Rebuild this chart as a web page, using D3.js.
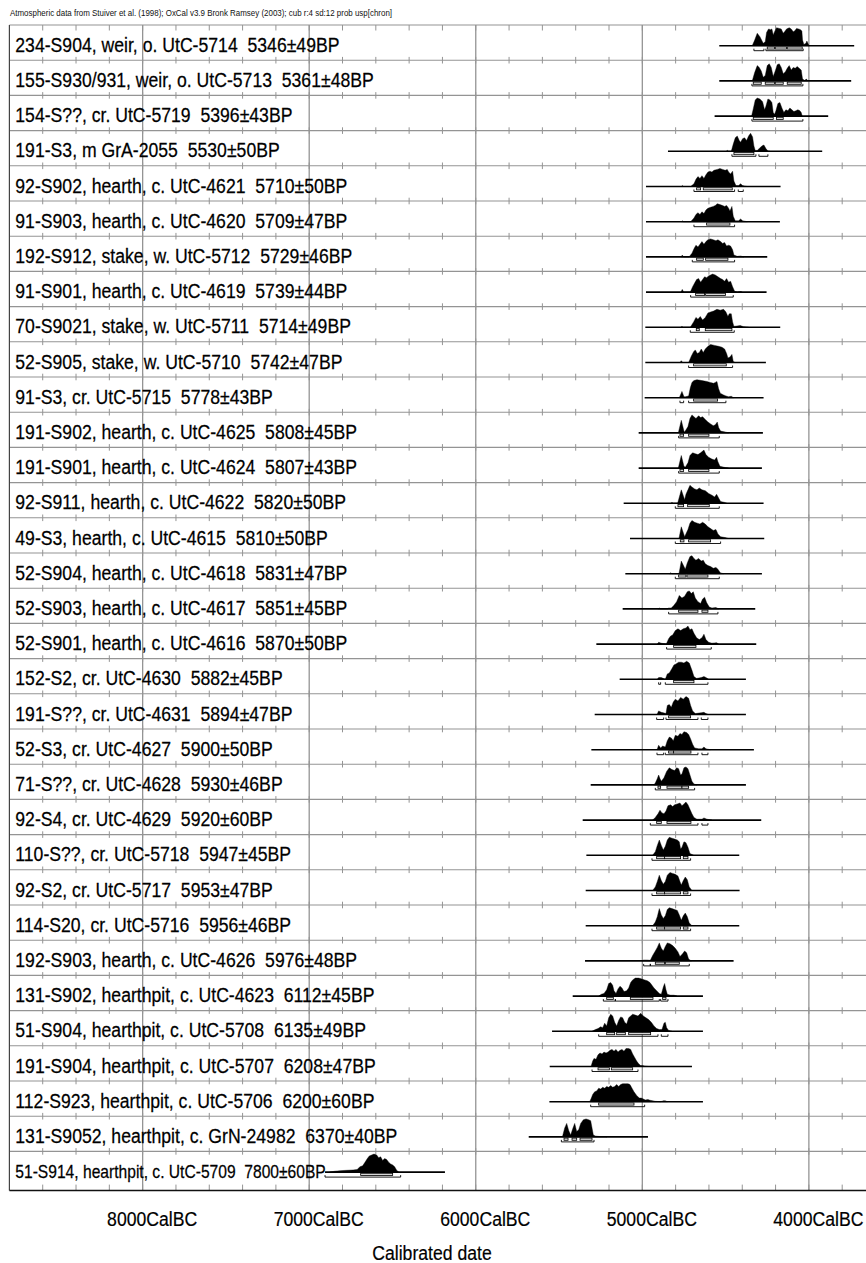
<!DOCTYPE html>
<html><head><meta charset="utf-8">
<script src="https://cdn.jsdelivr.net/npm/d3@7"></script>
<style>
html,body{margin:0;padding:0;background:#fff;}
svg{display:block;}
text{font-family:"Liberation Sans",Arial,sans-serif;white-space:pre;}
</style></head>
<body>
<svg id="chart" width="866" height="1263"></svg>
<script>
const headerText = "Atmospheric data from Stuiver et al. (1998); OxCal v3.9 Bronk Ramsey (2003); cub r:4 sd:12 prob usp[chron]";
const axisTitle = "Calibrated date";
const majorTicks = [8000, 7000, 6000, 5000, 4000];
const tickLabels = ["8000CalBC", "7000CalBC", "6000CalBC", "5000CalBC", "4000CalBC"];
const minorTicks = [8600,8400,8200,8000,7800,7600,7400,7200,7000,6800,6600,6400,6200,6000,5800,5600,5400,5200,5000,4800,4600,4400,4200,4000,3800];

const labels = [
"234-S904, weir, o. UtC-5714  5346±49BP",
"155-S930/931, weir, o. UtC-5713  5361±48BP",
"154-S??, cr. UtC-5719  5396±43BP",
"191-S3, m GrA-2055  5530±50BP",
"92-S902, hearth, c. UtC-4621  5710±50BP",
"91-S903, hearth, c. UtC-4620  5709±47BP",
"192-S912, stake, w. UtC-5712  5729±46BP",
"91-S901, hearth, c. UtC-4619  5739±44BP",
"70-S9021, stake, w. UtC-5711  5714±49BP",
"52-S905, stake, w. UtC-5710  5742±47BP",
"91-S3, cr. UtC-5715  5778±43BP",
"191-S902, hearth, c. UtC-4625  5808±45BP",
"191-S901, hearth, c. UtC-4624  5807±43BP",
"92-S911, hearth, c. UtC-4622  5820±50BP",
"49-S3, hearth, c. UtC-4615  5810±50BP",
"52-S904, hearth, c. UtC-4618  5831±47BP",
"52-S903, hearth, c. UtC-4617  5851±45BP",
"52-S901, hearth, c. UtC-4616  5870±50BP",
"152-S2, cr. UtC-4630  5882±45BP",
"191-S??, cr. UtC-4631  5894±47BP",
"52-S3, cr. UtC-4627  5900±50BP",
"71-S??, cr. UtC-4628  5930±46BP",
"92-S4, cr. UtC-4629  5920±60BP",
"110-S??, cr. UtC-5718  5947±45BP",
"92-S2, cr. UtC-5717  5953±47BP",
"114-S20, cr. UtC-5716  5956±46BP",
"192-S903, hearth, c. UtC-4626  5976±48BP",
"131-S902, hearthpit, c. UtC-4623  6112±45BP",
"51-S904, hearthpit, c. UtC-5708  6135±49BP",
"191-S904, hearthpit, c. UtC-5707  6208±47BP",
"112-S923, hearthpit, c. UtC-5706  6200±60BP",
"131-S9052, hearthpit, c. GrN-24982  6370±40BP",
"51-S914, hearthpit, c. UtC-5709  7800±60BP"
];

// full plotted range of each row (cal BC, from -> to)
const spans = [
[4538,3728],[4538,3746],[4566,3884],[4846,3920],[4978,4170],[4978,4174],[4978,4250],[4978,4254],
[4982,4172],[4982,4258],[4986,4272],[5022,4276],[5022,4282],[5112,4272],[5074,4268],[5102,4282],
[5118,4322],[5276,4316],[5136,4378],[5286,4378],[5306,4330],[5310,4378],[5358,4286],[5336,4418],
[5340,4416],[5340,4418],[5344,4452],[5418,4636],[5542,4636],[5556,4702],[5558,4636],[5682,4966],
[6905,6185]
];

// probability density outlines: [cal BC, relative height]
const densities = [
[[4340,0],[4326,.3],[4310,.69],[4294,.5],[4274,.13],[4262,.22],[4254,.74],[4242,.93],[4230,.89],[4222,.93],[4214,.6],[4206,.78],[4194,1],[4178,.96],[4166,.93],[4154,.69],[4146,.78],[4134,.93],[4118,1],[4106,.93],[4094,.78],[4086,.81],[4074,.96],[4062,.93],[4050,.89],[4042,.81],[4038,.31],[4030,.07],[4018,.13],[4012,.26],[4006,.13],[3998,0]],
[[4340,0],[4326,.45],[4310,.85],[4298,.75],[4286,.55],[4274,.2],[4262,.3],[4250,.85],[4238,.95],[4226,.75],[4214,.25],[4202,.55],[4190,.9],[4178,.95],[4166,.75],[4154,.4],[4142,.5],[4130,.7],[4118,.85],[4106,.6],[4094,.75],[4082,.7],[4070,.8],[4058,.7],[4046,.6],[4038,.1],[4026,.03],[4014,.1],[4006,0]],
[[4344,0],[4334,.4],[4322,.9],[4310,1],[4294,.95],[4278,.8],[4266,.35],[4258,.55],[4246,.95],[4234,.9],[4222,.75],[4214,.2],[4206,.1],[4198,.3],[4186,.7],[4174,.75],[4162,.45],[4150,.2],[4138,.35],[4126,.3],[4114,.45],[4102,.35],[4090,.25],[4078,.3],[4066,.35],[4054,.3],[4046,.2],[4040,0]],
[[4496,0],[4490,.05],[4482,0],[4466,0],[4454,.4],[4442,.75],[4430,.85],[4418,.6],[4410,.5],[4398,.7],[4386,.75],[4374,.6],[4362,.85],[4350,1],[4338,.8],[4330,.3],[4322,.05],[4310,.05],[4298,.15],[4282,.3],[4270,.35],[4258,.15],[4246,.02],[4234,0]],
[[4766,0],[4760,.05],[4752,0],[4710,0],[4690,.15],[4678,.4],[4666,.55],[4654,.45],[4642,.6],[4630,.45],[4618,.65],[4606,.8],[4594,.85],[4582,.8],[4570,.9],[4550,.95],[4534,1],[4518,.95],[4502,.9],[4490,.95],[4482,.8],[4470,.7],[4458,.85],[4450,.3],[4438,.05],[4422,.05],[4410,.15],[4398,.05],[4382,.02],[4370,0]],
[[4766,0],[4760,.05],[4752,0],[4710,0],[4690,.2],[4678,.4],[4666,.5],[4654,.4],[4642,.55],[4630,.45],[4618,.65],[4606,.75],[4590,.8],[4574,.85],[4562,.9],[4550,1],[4534,.95],[4518,.9],[4506,.85],[4494,.9],[4482,.75],[4474,.6],[4462,.85],[4454,.3],[4442,.05],[4422,.05],[4410,.15],[4398,.05],[4370,0]],
[[4768,0],[4760,.1],[4752,0],[4720,0],[4702,.2],[4690,.45],[4678,.65],[4666,.55],[4654,.7],[4642,.85],[4630,.7],[4618,.85],[4606,.95],[4590,1],[4574,.95],[4558,.9],[4546,.95],[4530,.85],[4518,.75],[4506,.8],[4494,.6],[4482,.65],[4470,.6],[4458,.4],[4450,.1],[4430,.03],[4410,.05],[4390,0]],
[[4768,0],[4760,.15],[4752,0],[4712,0],[4698,.3],[4686,.5],[4674,.7],[4662,.75],[4650,.55],[4638,.7],[4626,.85],[4614,.8],[4602,.9],[4590,.95],[4578,1],[4562,.95],[4546,.85],[4530,.75],[4518,.7],[4506,.6],[4494,.75],[4482,.55],[4470,.6],[4458,.3],[4446,.05],[4430,0],[4410,.03],[4400,0]],
[[4770,0],[4762,.05],[4754,0],[4712,0],[4692,.3],[4678,.55],[4666,.45],[4652,.6],[4638,.4],[4622,.55],[4606,.8],[4590,.85],[4572,.9],[4552,1],[4532,.95],[4512,1],[4498,.85],[4486,.6],[4478,.75],[4466,.75],[4458,.3],[4450,.05],[4412,.1],[4392,.03],[4362,0]],
[[4774,0],[4766,.1],[4758,0],[4722,0],[4706,.35],[4692,.6],[4682,.7],[4670,.5],[4658,.55],[4646,.75],[4634,.55],[4622,.75],[4606,.9],[4590,1],[4566,.95],[4542,.9],[4522,.85],[4506,.75],[4494,.5],[4486,.25],[4474,.3],[4462,.45],[4454,.05],[4442,0]],
[[4778,0],[4762,.35],[4750,.05],[4742,.05],[4722,.1],[4712,.55],[4702,.85],[4690,.95],[4672,1],[4642,.95],[4612,.9],[4592,.85],[4572,.8],[4562,.85],[4552,.9],[4542,.5],[4532,.25],[4512,.15],[4498,.1],[4482,.05],[4466,.08],[4452,0]],
[[4784,0],[4766,.7],[4750,.1],[4746,.05],[4726,.35],[4714,.8],[4702,1],[4690,.9],[4678,.8],[4662,.95],[4650,.85],[4638,.9],[4622,.75],[4606,.6],[4590,.5],[4574,.4],[4562,.45],[4550,.6],[4542,.3],[4530,.1],[4502,.05],[4482,0]],
[[4784,0],[4766,.7],[4750,.1],[4742,.05],[4726,.3],[4714,.7],[4698,.85],[4682,.8],[4666,.75],[4650,.85],[4630,1],[4618,.75],[4602,.6],[4582,.5],[4566,.45],[4554,.6],[4546,.35],[4534,.1],[4502,.03],[4482,0]],
[[4830,0],[4822,.05],[4814,0],[4788,0],[4766,.75],[4746,.2],[4738,.5],[4726,.75],[4714,1],[4702,.9],[4686,.8],[4672,.75],[4658,.85],[4642,.75],[4622,.7],[4602,.55],[4582,.45],[4566,.35],[4554,.5],[4542,.3],[4530,.1],[4506,.05],[4492,0]],
[[4780,0],[4766,.65],[4746,.1],[4726,.5],[4714,.85],[4702,1],[4686,.9],[4670,.85],[4654,.8],[4638,.9],[4622,.8],[4606,.65],[4590,.55],[4574,.45],[4558,.5],[4546,.25],[4530,.1],[4502,.05],[4482,0]],
[[4838,0],[4830,.05],[4822,0],[4780,0],[4766,.7],[4742,.25],[4730,.6],[4714,.95],[4702,1],[4690,.85],[4678,.75],[4662,.85],[4646,.7],[4634,.75],[4622,.55],[4606,.45],[4590,.4],[4574,.3],[4558,.35],[4546,.25],[4532,.05],[4512,0]],
[[4906,0],[4898,.05],[4890,0],[4848,0],[4842,.05],[4826,.05],[4810,.2],[4794,.4],[4778,.75],[4762,.6],[4746,.7],[4730,.95],[4718,1],[4706,.85],[4694,.95],[4682,.6],[4666,.4],[4650,.3],[4638,.55],[4626,.65],[4614,.35],[4598,.1],[4582,.05],[4558,.08],[4542,0]],
[[4910,0],[4902,.1],[4886,.05],[4856,0],[4842,.3],[4830,.45],[4818,.5],[4802,.75],[4786,.85],[4770,.75],[4754,.85],[4738,.9],[4726,1],[4714,.8],[4702,.85],[4690,.6],[4674,.35],[4658,.25],[4642,.35],[4630,.55],[4618,.25],[4602,.1],[4582,.05],[4554,.08],[4542,0]],
[[4910,0],[4902,.1],[4886,.1],[4862,0],[4850,.3],[4838,.35],[4822,.6],[4810,.8],[4798,.85],[4782,.95],[4766,.95],[4750,.9],[4734,1],[4718,.9],[4702,.5],[4690,.15],[4674,.05],[4646,.1],[4630,.15],[4618,.1],[4602,0]],
[[4912,0],[4902,.2],[4886,.12],[4874,.1],[4858,.05],[4850,.5],[4838,.55],[4826,.4],[4814,.7],[4802,.85],[4786,.75],[4770,.95],[4754,.85],[4738,1],[4722,.9],[4710,.5],[4698,.2],[4682,.05],[4646,.1],[4630,.12],[4618,.05],[4602,0]],
[[4912,0],[4902,.25],[4890,.1],[4878,.2],[4862,.15],[4850,.5],[4838,.7],[4826,.65],[4814,.5],[4802,.8],[4786,.75],[4774,.9],[4762,.85],[4750,1],[4734,.95],[4722,.85],[4710,.6],[4698,.3],[4686,.1],[4662,.05],[4642,.05],[4630,.15],[4618,.05],[4592,0]],
[[4932,0],[4922,.1],[4910,.35],[4902,.55],[4894,.35],[4886,.2],[4870,.4],[4854,.75],[4838,.95],[4822,.85],[4806,.8],[4794,.95],[4782,.9],[4770,.55],[4762,.6],[4750,.95],[4738,1],[4726,.9],[4714,.55],[4702,.2],[4690,.05],[4672,0]],
[[4938,0],[4922,.15],[4906,.35],[4894,.55],[4882,.4],[4870,.35],[4858,.5],[4846,.8],[4830,.85],[4818,.75],[4806,.85],[4790,.9],[4774,.95],[4762,.8],[4750,.9],[4738,1],[4726,.85],[4714,.6],[4702,.35],[4690,.15],[4672,.05],[4642,.05],[4630,.12],[4612,.05],[4582,0]],
[[4938,0],[4922,.2],[4910,.55],[4898,.85],[4886,.55],[4874,.3],[4862,.5],[4850,.85],[4838,1],[4822,.95],[4806,.9],[4790,.85],[4778,.75],[4770,.35],[4762,.45],[4750,.75],[4738,.7],[4726,.45],[4714,.1],[4692,0]],
[[4938,0],[4922,.2],[4910,.5],[4898,.85],[4886,.55],[4874,.35],[4862,.5],[4850,.85],[4834,1],[4818,.95],[4802,.9],[4786,.8],[4774,.5],[4766,.3],[4754,.55],[4742,.75],[4730,.6],[4718,.2],[4702,0]],
[[4938,0],[4922,.2],[4910,.5],[4898,.95],[4886,.6],[4874,.4],[4862,.55],[4850,.9],[4838,1],[4822,.95],[4806,.9],[4790,.85],[4778,.6],[4766,.3],[4754,.55],[4742,.7],[4730,.5],[4718,.15],[4702,0]],
[[5000,0],[4992,.05],[4972,.05],[4952,.03],[4938,.3],[4922,.55],[4910,.75],[4898,1],[4886,.7],[4874,.55],[4862,.8],[4850,1],[4834,.95],[4818,.85],[4802,.7],[4786,.5],[4774,.25],[4762,.35],[4746,.55],[4734,.45],[4722,.1],[4706,0]],
[[5262,0],[5246,.1],[5230,.15],[5214,.35],[5202,.7],[5190,.75],[5178,.6],[5170,.3],[5158,.15],[5146,.4],[5134,.55],[5122,.45],[5110,.25],[5094,.3],[5082,.45],[5070,.75],[5058,.9],[5042,1],[5022,1],[5002,.95],[4986,.9],[4970,.85],[4954,.75],[4942,.6],[4930,.45],[4914,.3],[4898,.15],[4886,.1],[4874,.5],[4866,.7],[4858,.35],[4850,.1],[4830,.05],[4810,.05],[4792,0]],
[[5302,0],[5282,.1],[5266,.15],[5250,.25],[5238,.2],[5226,.45],[5214,.3],[5202,.75],[5190,.95],[5178,.85],[5166,.5],[5154,.3],[5142,.6],[5130,.8],[5118,.75],[5106,.5],[5094,.4],[5082,.75],[5070,.85],[5058,.95],[5042,.9],[5026,.85],[5010,1],[4994,.85],[4978,.75],[4962,.65],[4946,.5],[4930,.3],[4914,.15],[4898,.1],[4882,.1],[4870,.45],[4862,.5],[4854,.2],[4842,.05],[4822,0]],
[[5308,0],[5298,.3],[5290,.45],[5278,.4],[5266,.65],[5254,.75],[5242,.7],[5230,.8],[5218,.75],[5206,.8],[5194,.9],[5182,.95],[5170,.85],[5158,.95],[5146,.8],[5134,.9],[5122,.95],[5110,.85],[5098,1],[5082,1],[5070,.95],[5058,.7],[5046,.5],[5034,.3],[5022,.15],[5010,.05],[4998,.05],[4982,.02],[4962,0]],
[[5316,0],[5306,.2],[5298,.4],[5286,.55],[5274,.6],[5262,.75],[5250,.7],[5238,.8],[5226,.75],[5214,.85],[5202,.8],[5190,.9],[5178,.8],[5166,.85],[5154,.95],[5142,.85],[5130,.95],[5118,1],[5102,1],[5086,1],[5074,.95],[5062,.75],[5050,.55],[5034,.35],[5018,.2],[5006,.2],[4994,.15],[4982,.1],[4966,.12],[4954,.08],[4938,.05],[4922,.02],[4890,0],[4874,.05],[4862,.05],[4850,0]],
[[5480,0],[5466,.5],[5454,.75],[5442,.35],[5430,.1],[5418,.45],[5406,.75],[5394,.3],[5382,.4],[5370,.75],[5354,.95],[5338,1],[5322,.95],[5310,.9],[5302,.5],[5294,.1],[5282,.05],[5266,.03],[5250,.02],[5222,.02],[5212,0]],
[[6878,0],[6845,.05],[6815,.08],[6775,.1],[6736,.12],[6712,.15],[6695,.3],[6679,.35],[6665,.55],[6651,.75],[6639,.9],[6625,.95],[6611,1],[6595,.95],[6583,.8],[6571,.85],[6559,.65],[6547,.75],[6535,.7],[6523,.55],[6511,.45],[6499,.4],[6487,.3],[6475,.1],[6463,0]]
];

// 68.2% probability ranges (cal BC)
const ranges68 = [
[[4250,4206],[4202,4134],[4130,4040]],
[[4334,4286],[4262,4206],[4202,4154],[4130,4046]],
[[4334,4214],[4194,4154]],
[[4450,4330]],
[[4674,4650],[4634,4460]],
[[4614,4474]],
[[4674,4634],[4620,4486]],
[[4680,4626],[4620,4500]],
[[4676,4658],[4622,4462]],
[[4692,4496]],
[[4692,4548]],
[[4774,4752],[4722,4600]],
[[4774,4752],[4722,4600]],
[[4786,4752],[4728,4598]],
[[4772,4750],[4722,4590]],
[[4782,4738],[4732,4606]],
[[4782,4666],[4642,4606]],
[[4812,4678]],
[[4812,4690]],
[[4842,4710]],
[[4842,4812],[4812,4708]],
[[4906,4890],[4852,4762],[4762,4722]],
[[4914,4886],[4852,4708]],
[[4914,4866],[4866,4770],[4754,4726]],
[[4914,4866],[4866,4770],[4754,4726]],
[[4914,4866],[4866,4770],[4754,4726]],
[[4922,4866],[4862,4778]],
[[5214,5174],[5072,4936],[4878,4858]],
[[5214,5166],[5154,5102],[5082,4950]],
[[5266,5198],[5186,5058]],
[[5262,5050]],
[[5470,5446],[5422,5394],[5374,5302]],
[[6691,6499]]
];

// 95.4% probability ranges (cal BC)
const ranges95 = [
[[4330,4270],[4258,4034]],
[[4342,4036]],
[[4342,4036]],
[[4462,4318],[4300,4246]],
[[4690,4446],[4424,4394]],
[[4690,4446]],
[[4700,4446]],
[[4710,4454]],
[[4712,4448]],
[[4722,4458]],
[[4774,4752],[4722,4498]],
[[4782,4538]],
[[4782,4538]],
[[4802,4538]],
[[4802,4530]],
[[4802,4538]],
[[4842,4546]],
[[4854,4586]],
[[4902,4890],[4862,4606]],
[[4914,4872],[4858,4666],[4646,4606]],
[[4912,4872],[4862,4666],[4642,4606]],
[[4922,4686]],
[[4952,4666],[4642,4606]],
[[4942,4710]],
[[4942,4710]],
[[4942,4710]],
[[4992,4952],[4952,4718]],
[[5234,5162],[5162,4898],[4890,4846]],
[[5262,4906],[4886,4846]],
[[5302,5026]],
[[5310,4986]],
[[5486,5290]],
[[6905,6451]]
];

// ---------- drawing ----------
const W = 866, H = 1263;
const svg = d3.select("#chart");
svg.append("rect").attr("width", W).attr("height", H).attr("fill", "#fff");

const x = d3.scaleLinear().domain([8800, 3600]).range([9.4, 875.5]);
const nRows = labels.length;
const rowY = d3.scaleLinear().domain([0, nRows]).range([25, 25 + 35.2 * nRows]);
const plotTop = rowY(0), plotBottom = rowY(nRows) + 4;
const plotLeft = x(8800), plotRight = W;
const grey = "#949494";
const squeeze = 0.84; // condensed text look

// header
svg.append("text").attr("x", 10).attr("y", 16).attr("font-size", 9)
  .attr("textLength", 382).attr("lengthAdjust", "spacingAndGlyphs")
  .attr("fill", "#111").text(headerText);

// major grid lines
svg.append("g").selectAll("line").data(majorTicks).join("line")
  .attr("x1", d => x(d)).attr("x2", d => x(d))
  .attr("y1", plotTop).attr("y2", plotBottom)
  .attr("stroke", grey).attr("stroke-width", 1.3);

// row separators
const sepIdx = d3.range(0, nRows);
svg.append("g").selectAll("line").data(sepIdx).join("line")
  .attr("x1", plotLeft).attr("x2", plotRight)
  .attr("y1", d => rowY(d)).attr("y2", d => rowY(d))
  .attr("stroke", grey).attr("stroke-width", 1.1);

// minor ticks on every row line
const tickG = svg.append("g").attr("stroke", grey).attr("stroke-width", 1);
sepIdx.forEach(i => {
  const y = rowY(i);
  const y1 = i === 0 ? y : y - 3.3;
  const y2 = i === 0 ? y + 5.5 : y + 3.3;
  tickG.selectAll(null).data(minorTicks).join("line")
    .attr("x1", d => x(d)).attr("x2", d => x(d)).attr("y1", y1).attr("y2", y2);
});
tickG.selectAll(null).data(minorTicks).join("line")
  .attr("x1", d => x(d)).attr("x2", d => x(d)).attr("y1", plotBottom - 6).attr("y2", plotBottom);

// borders
svg.append("line").attr("x1", plotLeft).attr("x2", plotLeft).attr("y1", plotTop).attr("y2", plotBottom)
  .attr("stroke", "#444").attr("stroke-width", 1.2);
svg.append("line").attr("x1", plotLeft).attr("x2", plotRight).attr("y1", plotBottom).attr("y2", plotBottom)
  .attr("stroke", "#111").attr("stroke-width", 1.5);

// row labels
svg.append("g").selectAll("text").data(labels).join("text")
  .attr("transform", (d, i) => `translate(15.3,${rowY(i) + 26.7}) scale(${squeeze},1)`)
  .attr("x", 0).attr("y", 0)
  .attr("font-size", (d, i) => i === nRows - 1 ? 18.6 : 21)
  .attr("fill", "#000").attr("stroke", "#000").attr("stroke-width", 0.25)
  .text(d => d);

// distributions
const maxH = 18;
const rows = svg.append("g");
labels.forEach((lab, i) => {
  const base = rowY(i) + 20.7;
  const g = rows.append("g");
  g.append("line").attr("x1", x(spans[i][0])).attr("x2", x(spans[i][1]))
    .attr("y1", base).attr("y2", base).attr("stroke", "#000").attr("stroke-width", 1.6);
  const area = d3.area().x(d => x(d[0])).y0(base).y1(d => base - d[1] * maxH);
  g.append("path").attr("d", area(densities[i])).attr("fill", "#000").attr("stroke", "#000").attr("stroke-width", 0.4);
  g.selectAll("rect.r68").data(ranges68[i]).join("rect").attr("class", "r68")
    .attr("x", d => x(d[0])).attr("width", d => x(d[1]) - x(d[0]))
    .attr("y", base + 1.2).attr("height", 2.2)
    .attr("fill", "#d8d8d8").attr("stroke", "#000").attr("stroke-width", 0.8);
  const y95 = base + 5;
  ranges95[i].forEach(r => {
    const x0 = x(r[0]), x1 = x(r[1]);
    g.append("path")
      .attr("d", `M${x0},${y95 - 2}L${x0},${y95}L${x1},${y95}L${x1},${y95 - 2}`)
      .attr("fill", "none").attr("stroke", "#000").attr("stroke-width", 0.9);
  });
});

// axis labels
svg.append("g").selectAll("text").data(majorTicks).join("text")
  .attr("transform", d => `translate(${x(d) + 9.5},${plotBottom + 35.5}) scale(${squeeze},1)`)
  .attr("text-anchor", "middle").attr("font-size", 21)
  .attr("fill", "#000").attr("stroke", "#000").attr("stroke-width", 0.2)
  .text((d, i) => tickLabels[i]);

svg.append("text")
  .attr("transform", `translate(432,1259.5) scale(${squeeze},1)`)
  .attr("text-anchor", "middle").attr("font-size", 21)
  .attr("fill", "#000").attr("stroke", "#000").attr("stroke-width", 0.2)
  .text(axisTitle);
</script>
</body></html>
